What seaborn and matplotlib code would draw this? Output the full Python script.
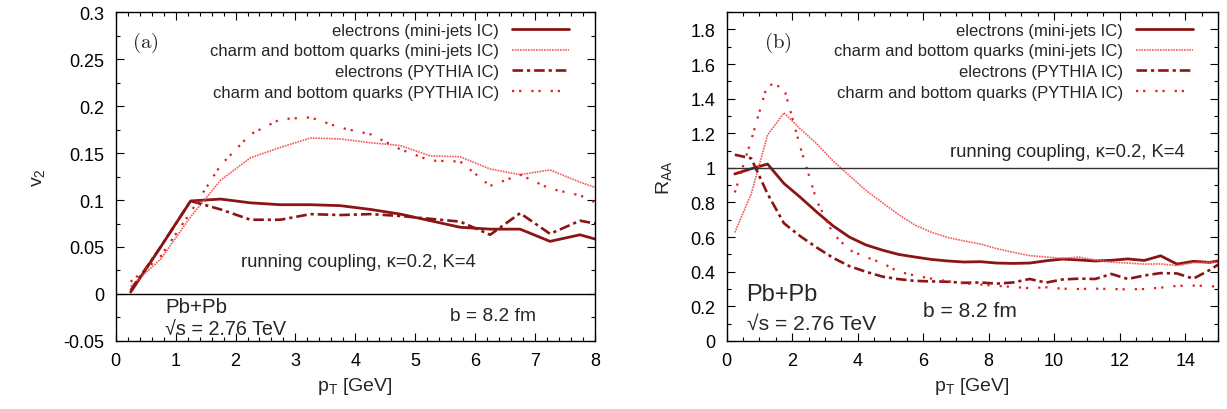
import numpy as np
import matplotlib
matplotlib.use('Agg')
import matplotlib.pyplot as plt
import seaborn as sns
from matplotlib.ticker import MultipleLocator

# ---- data: panel (a), v2 vs pT ----
pt_a = [0.25, 0.75, 1.25, 1.75, 2.25, 2.75, 3.25, 3.75, 4.25, 4.75,
        5.25, 5.75, 6.25, 6.75, 7.25, 7.75, 8.25]
v2_ele_mj = [0.002, 0.050, 0.099, 0.101, 0.097, 0.095, 0.095, 0.094, 0.090, 0.085,
             0.078, 0.071, 0.069, 0.069, 0.056, 0.063, 0.054]
v2_hq_mj = [0.008, 0.037, 0.082, 0.121, 0.145, 0.156, 0.166, 0.165, 0.161, 0.158,
            0.147, 0.146, 0.133, 0.127, 0.132, 0.119, 0.108]
v2_ele_py = [0.004, 0.050, 0.099, 0.090, 0.079, 0.079, 0.085, 0.084, 0.085, 0.083,
             0.080, 0.077, 0.063, 0.086, 0.064, 0.078, 0.072]
v2_hq_py = [0.013, 0.040, 0.087, 0.137, 0.170, 0.186, 0.188, 0.177, 0.170, 0.154,
            0.142, 0.141, 0.115, 0.127, 0.112, 0.105, 0.090]

# ---- data: panel (b), RAA vs pT ----
pt_b = [0.25, 0.75, 1.25, 1.75, 2.25, 2.75, 3.25, 3.75, 4.25, 4.75,
        5.25, 5.75, 6.25, 6.75, 7.25, 7.75, 8.25, 8.75, 9.25, 9.75,
        10.25, 10.75, 11.25, 11.75, 12.25, 12.75, 13.25, 13.75, 14.25, 14.75, 15.25]
raa_ele_mj = [0.965, 0.995, 1.022, 0.910, 0.830, 0.745, 0.665, 0.600, 0.555, 0.525,
              0.500, 0.485, 0.471, 0.462, 0.456, 0.458, 0.450, 0.448, 0.450, 0.463,
              0.473, 0.468, 0.462, 0.466, 0.474, 0.465, 0.492, 0.444, 0.460, 0.454, 0.470]
raa_hq_mj = [0.627, 0.849, 1.190, 1.318, 1.225, 1.140, 1.040, 0.955, 0.870, 0.800,
             0.730, 0.670, 0.628, 0.598, 0.578, 0.560, 0.533, 0.512, 0.493, 0.485,
             0.477, 0.485, 0.468, 0.455, 0.450, 0.444, 0.445, 0.436, 0.452, 0.455, 0.452]
raa_ele_py = [1.076, 1.055, 0.850, 0.680, 0.605, 0.540, 0.480, 0.432, 0.400, 0.372,
              0.357, 0.347, 0.344, 0.342, 0.336, 0.338, 0.331, 0.338, 0.358, 0.337,
              0.355, 0.360, 0.358, 0.387, 0.358, 0.378, 0.392, 0.390, 0.360, 0.410, 0.470]
raa_hq_py = [0.858, 1.160, 1.485, 1.465, 1.120, 0.810, 0.620, 0.525, 0.485, 0.450,
             0.400, 0.378, 0.360, 0.345, 0.332, 0.326, 0.318, 0.312, 0.305, 0.310,
             0.302, 0.300, 0.302, 0.300, 0.298, 0.300, 0.308, 0.318, 0.320, 0.318, 0.305]

labels = ['electrons (mini-jets IC)', 'charm and bottom quarks (mini-jets IC)',
          'electrons (PYTHIA IC)', 'charm and bottom quarks (PYTHIA IC)']

DARK = '#8b1414'
PINK = '#f25a5a'
RED = '#e51c1c'
styles = [dict(color=DARK, lw=2.0, linestyle='-'),
          dict(color=PINK, lw=1.2, linestyle=(0, (1, 0.6))),
          dict(color=DARK, lw=1.9, linestyle=(0, (4, 1.5, 1.2, 1.5))),
          dict(color=RED, lw=1.6, linestyle=(0, (1, 2.2, 1, 4.5)))]

sns.set_theme(style='ticks')
plt.rcParams['font.family'] = ['Liberation Sans', 'DejaVu Sans']
plt.rcParams['mathtext.fontset'] = 'custom'
plt.rcParams['mathtext.rm'] = 'Liberation Sans'
plt.rcParams['mathtext.it'] = 'Liberation Sans'
plt.rcParams['mathtext.default'] = 'regular'

fig = plt.figure(figsize=(12.27, 4.10), dpi=100)
ax_a = fig.add_axes([0.0943, 0.166, 0.3906, 0.802])
ax_b = fig.add_axes([0.5922, 0.166, 0.4004, 0.802])


def draw(ax, x, series):
    for y, lab, st in zip(series, labels, styles):
        sns.lineplot(x=x, y=y, ax=ax, label=lab, **st)


def style_axes(ax, leg_x):
    for s in ax.spines.values():
        s.set_linewidth(1.0)
        s.set_color('black')
    ax.tick_params(which='both', direction='in', top=True, right=True,
                   labelsize=13, colors='black', width=0.8)
    ax.tick_params(which='major', length=6, pad=8)
    ax.tick_params(which='minor', length=3)
    leg = ax.legend(loc='upper right', frameon=False, markerfirst=False,
                    fontsize=12, handlelength=3.4, labelspacing=0.34,
                    borderaxespad=0, handletextpad=0.8,
                    bbox_to_anchor=(leg_x, 0.988))
    return leg


# panel (a)
draw(ax_a, pt_a, [v2_ele_mj, v2_hq_mj, v2_ele_py, v2_hq_py])
ax_a.axhline(0, color='black', lw=1.0)
ax_a.set_xlim(0, 8)
ax_a.set_ylim(-0.05, 0.3)
ax_a.xaxis.set_major_locator(MultipleLocator(1))
ax_a.xaxis.set_minor_locator(MultipleLocator(0.2))
ax_a.yaxis.set_minor_locator(MultipleLocator(0.025))
ax_a.set_yticks(np.arange(-0.05, 0.31, 0.05))
ax_a.set_yticklabels(['-0.05', '0', '0.05', '0.1', '0.15', '0.2', '0.25', '0.3'])
ax_a.set_xlabel('p$_T$ [GeV]', fontsize=14, labelpad=4)
ax_a.set_ylabel('v$_2$', fontsize=14, labelpad=12)
style_axes(ax_a, 0.96)
ax_a.text(0.5, 0.268, r'$\mathrm{(a)}$', fontsize=15, ha='center', va='center',
          math_fontfamily='cm')
ax_a.text(4.05, 0.035, 'running coupling, κ=0.2, K=4', fontsize=13.3,
          ha='center', va='center')
ax_a.text(0.83, -0.013, 'Pb+Pb', fontsize=14.8, ha='left', va='center')
ax_a.text(0.83, -0.037, '√s = 2.76 TeV', fontsize=14.2, ha='left', va='center')
ax_a.text(6.3, -0.023, 'b = 8.2 fm', fontsize=13.8, ha='center', va='center')

# panel (b)
draw(ax_b, pt_b, [raa_ele_mj, raa_hq_mj, raa_ele_py, raa_hq_py])
ax_b.axhline(1, color='#333333', lw=1.0)
ax_b.set_xlim(0, 15)
ax_b.set_ylim(0, 1.9)
ax_b.xaxis.set_major_locator(MultipleLocator(2))
ax_b.xaxis.set_minor_locator(MultipleLocator(0.5))
ax_b.set_yticks(np.arange(0, 1.81, 0.2))
ax_b.set_yticklabels(['0', '0.2', '0.4', '0.6', '0.8', '1', '1.2', '1.4', '1.6', '1.8'])
ax_b.yaxis.set_minor_locator(MultipleLocator(0.1))
ax_b.set_xlabel('p$_T$ [GeV]', fontsize=14, labelpad=4)
ax_b.set_ylabel('R$_{AA}$', fontsize=14, labelpad=12)
style_axes(ax_b, 0.963)
ax_b.text(1.56, 1.73, r'$\mathrm{(b)}$', fontsize=15, ha='center', va='center',
          math_fontfamily='cm')
ax_b.text(14.0, 1.095, 'running coupling, κ=0.2, K=4', fontsize=13.3,
          ha='right', va='center')
ax_b.text(0.61, 0.272, 'Pb+Pb', fontsize=17, ha='left', va='center')
ax_b.text(0.61, 0.104, '√s = 2.76 TeV', fontsize=15.2, ha='left', va='center')
ax_b.text(7.42, 0.175, 'b = 8.2 fm', fontsize=15.1, ha='center', va='center')

fig.savefig('out.png', dpi=100)
